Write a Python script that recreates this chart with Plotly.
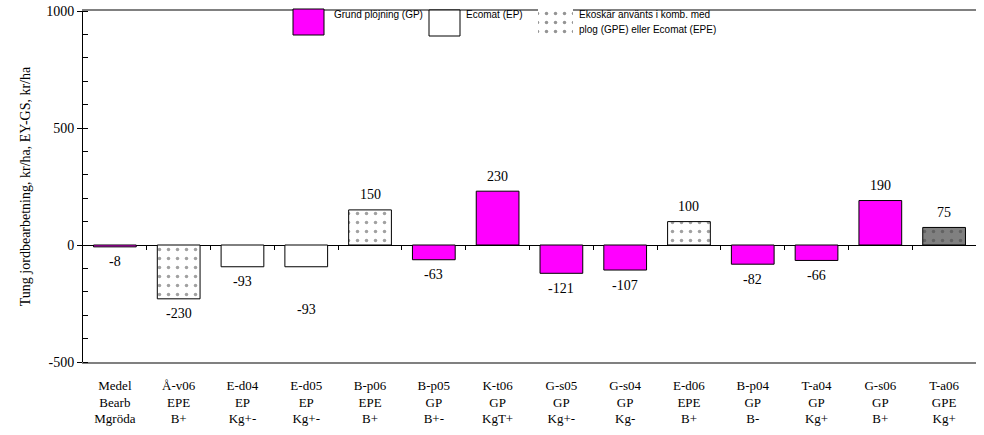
import plotly.graph_objects as go

# ---------------- data ----------------
sites = ["Medel", "Å-v06", "E-d04", "E-d05", "B-p06", "B-p05", "K-t06",
         "G-s05", "G-s04", "E-d06", "B-p04", "T-a04", "G-s06", "T-a06"]
methods = ["Bearb", "EPE", "EP", "EP", "EPE", "GP", "GP",
           "GP", "GP", "EPE", "GP", "GP", "GP", "GPE"]
crops = ["Mgröda", "B+", "Kg+-", "Kg+-", "B+", "B+-", "KgT+",
         "Kg+-", "Kg-", "B+", "B-", "Kg+", "B+", "Kg+"]
values = [-8, -230, -93, -93, 150, -63, 230, -121, -107, 100, -82, -66, 190, 75]
bar_group = ["GP", "EPE", "EP", "EP", "EPE", "GP", "GP",
             "GP", "GP", "EPE", "GP", "GP", "GP", "GPE"]
y_tick_values = [-500, 0, 500, 1000]
y_tick_text = ["-500", "0", "500", "1000"]
y_title = "Tung jordbearbetning, kr/ha, EY-GS, kr/ha"
legend_gp = "Grund plöjning (GP)"
legend_ep = "Ecomat (EP)"
legend_epe = ["Ekoskär använts i komb. med", "plog (GPE) eller Ecomat (EPE)"]

# ---------------- styles ----------------
W, H = 984, 435
ML, MR, MT, MB = 83, 8, 0, 73
PLOT_TOP_PX = 11
PW, PH = W - ML - MR, H - MT - MB
dom_top = (PH - PLOT_TOP_PX) / PH
y_min, y_max = -500, 1000

SERIF = "Liberation Serif, Times New Roman, serif"
SANS = "Liberation Sans, Arial, sans-serif"
MAGENTA = "#FF00FF"
GRAY_BORDER = "#808080"

group_style = {
    "GP": dict(color=MAGENTA, shape="", fg="#000000"),
    "EP": dict(color="#FFFFFF", shape="", fg="#000000"),
    "EPE": dict(color="#FFFFFF", shape=".", fg="#2a2a2a"),
    "GPE": dict(color="#808080", shape=".", fg="#1a1a1a"),
}
label_shift = [15, 15, 15, 43, 15, 15, 15, 15, 15, 15, 15, 15, 15, 15]

xs = list(range(len(values)))
tick_text = [f"{s}<br>{m}<br>{c}" for s, m, c in zip(sites, methods, crops)]

fig = go.Figure()
fig.add_trace(go.Bar(
    x=xs, y=values,
    width=0.67,
    marker=dict(
        color=[group_style[g]["color"] for g in bar_group],
        line=dict(color="black", width=1),
        pattern=dict(
            shape=[group_style[g]["shape"] for g in bar_group],
            fgcolor=[group_style[g]["fg"] for g in bar_group],
            fillmode="overlay",
            size=9,
            solidity=0.12,
        ),
    ),
    showlegend=False,
    hoverinfo="skip",
))

# dummy trace for the zero-line tick axis
fig.add_trace(go.Scatter(x=[None], y=[None], xaxis="x2", yaxis="y",
                         showlegend=False, hoverinfo="skip"))

# value labels
annotations = []
for i, v in enumerate(values):
    s = label_shift[i]
    annotations.append(dict(
        x=xs[i], y=v, xref="x", yref="y", text=str(v), showarrow=False,
        yshift=s if v >= 0 else -s, yanchor="middle",
        font=dict(family=SERIF, size=14, color="black"),
    ))


# ---------------- legend (drawn in pixel-coordinate overlay axes) ----------------
def px_box(x0, y0, x1, y1):
    return [x0, x1, x1, x0, x0], [y0, y0, y1, y1, y0]


bx, by = px_box(293, 9, 324, 35)
fig.add_trace(go.Scatter(x=bx, y=by, xaxis="x3", yaxis="y3", fill="toself",
                         fillcolor=MAGENTA, mode="lines",
                         line=dict(color="black", width=1),
                         showlegend=False, hoverinfo="skip"))
bx, by = px_box(429, 10, 460, 36)
fig.add_trace(go.Scatter(x=bx, y=by, xaxis="x3", yaxis="y3", fill="toself",
                         fillcolor="white", mode="lines",
                         line=dict(color="black", width=1),
                         showlegend=False, hoverinfo="skip"))
bx, by = px_box(538, 9, 573, 36)
fig.add_trace(go.Scatter(x=bx, y=by, xaxis="x3", yaxis="y3", fill="toself",
                         fillcolor="rgba(255,255,255,1)", mode="lines",
                         line=dict(color="rgba(0,0,0,0)", width=0),
                         fillpattern=dict(shape=".", fgcolor="#2a2a2a",
                                          bgcolor="white", size=9, solidity=0.12,
                                          fillmode="overlay"),
                         showlegend=False, hoverinfo="skip"))

for txt, x0, y0 in [(legend_gp, 333, 8), (legend_ep, 465, 8),
                    (legend_epe[0], 578, 8), (legend_epe[1], 578, 23)]:
    annotations.append(dict(
        x=x0, y=y0, xref="x3", yref="y3", text=txt, showarrow=False,
        xanchor="left", yanchor="top", borderpad=0,
        font=dict(family=SANS, size=10, color="black"),
    ))

fig.update_layout(
    width=W, height=H,
    margin=dict(l=ML, r=MR, t=MT, b=MB, pad=0, autoexpand=False),
    paper_bgcolor="white",
    plot_bgcolor="rgba(0,0,0,0)",
    showlegend=False,
    annotations=annotations,
    xaxis=dict(
        domain=[0, 1], range=[-0.5, len(values) - 0.5],
        tickmode="array", tickvals=xs, ticktext=tick_text,
        ticks="outside", ticklen=10, tickcolor="rgba(0,0,0,0)",
        tickfont=dict(family=SERIF, size=13, color="black"),
        showline=True, linecolor=GRAY_BORDER, linewidth=2, mirror=True,
        showgrid=False, zeroline=False, anchor="y", automargin=False,
        fixedrange=True,
    ),
    xaxis2=dict(
        overlaying="x", anchor="free", position=dom_top / 3,
        range=[-0.5, len(values) - 0.5],
        tickmode="array", tickvals=[i + 0.5 for i in xs[:-1]],
        ticks="outside", ticklen=4, tickcolor="black", tickwidth=1,
        showticklabels=False, showline=False, showgrid=False, zeroline=False,
        automargin=False,
    ),
    yaxis=dict(
        domain=[0, dom_top], range=[y_min, y_max],
        tickmode="array", tickvals=y_tick_values, ticktext=y_tick_text,
        ticks="outside", ticklen=5, tickcolor="black", tickwidth=1,
        minor=dict(ticks="inside", dtick=100, ticklen=5, tickcolor="black",
                   tickwidth=1, showgrid=False),
        tickfont=dict(family=SERIF, size=14, color="black"),
        showline=True, linecolor="black", linewidth=1,
        showgrid=False,
        zeroline=True, zerolinecolor="black", zerolinewidth=1,
        title=dict(text=y_title, font=dict(family=SERIF, size=14, color="black"),
                   standoff=12),
        anchor="x", automargin=False, fixedrange=True,
    ),
    yaxis2=dict(
        overlaying="y", side="right", range=[y_min, y_max],
        tickmode="array", tickvals=[500], ticks="", showticklabels=False,
        showgrid=True, gridcolor="black", gridwidth=1,
        showline=True, linecolor=GRAY_BORDER, linewidth=2,
        zeroline=False, anchor="x", automargin=False,
    ),
    xaxis3=dict(domain=[0, 1], range=[ML, W - MR], visible=False,
                anchor="y3", fixedrange=True, automargin=False),
    yaxis3=dict(domain=[0, 1], range=[H - MB, MT], visible=False,
                anchor="x3", fixedrange=True, automargin=False),
)

fig.write_html(
    "out.html",
    config={"displayModeBar": False, "staticPlot": True},
    post_script="document.body.style.margin='0';document.body.style.padding='0';"
                "document.body.style.overflow='hidden';",
)
